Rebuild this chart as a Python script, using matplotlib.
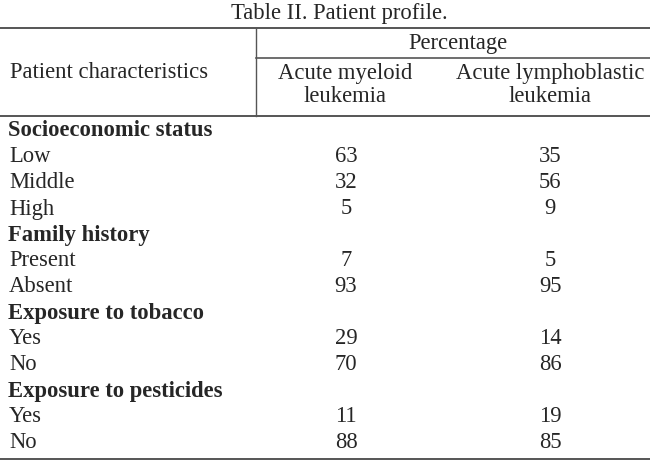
import matplotlib.pyplot as plt

# Table data
groups = ['Socioeconomic status', 'Family history',
          'Exposure to tobacco', 'Exposure to pesticides']
levels = [['Low', 'Middle', 'High'],
          ['Present', 'Absent'],
          ['Yes', 'No'],
          ['Yes', 'No']]
aml = [[63, 32, 5], [7, 93], [29, 70], [11, 88]]
all_ = [[35, 56, 9], [5, 95], [14, 86], [19, 85]]

title = 'Table II. Patient profile.'
col_head = 'Percentage'
col_names = ['Acute myeloid\nleukemia', 'Acute lymphoblastic\nleukemia']

plt.rcParams['font.family'] = ['Liberation Serif', 'DejaVu Serif']
ink = '#262626'
rule = '#555555'

fig = plt.figure(figsize=(6.5, 4.72), dpi=100)
ax = fig.add_axes([0, 0, 1, 1])
ax.set_xlim(0, 650)
ax.set_ylim(472, 0)
ax.axis('off')

fs = 16.3
ax.text(339, 14, title, ha='center', va='center', fontsize=fs, color=ink)

# header rules
ax.plot([0, 650], [28, 28], color=rule, lw=1.4)
ax.plot([256, 256], [28, 116], color=rule, lw=1.0)
ax.plot([256, 650], [58, 58], color=rule, lw=1.2)
ax.plot([0, 650], [116, 116], color=rule, lw=1.4)

ax.text(10, 72, 'Patient characteristics', ha='left', va='center', fontsize=fs, color=ink)
ax.text(458, 43, col_head, ha='center', va='center', fontsize=fs, color=ink)
col_x = [345, 550]
for cx, name in zip(col_x, col_names):
    ax.text(cx, 85, name, ha='center', va='center', fontsize=fs, color=ink,
            linespacing=1.18)

# body
num_x = [346, 550]
y = 131
step = 26
for g, lv, a, b in zip(groups, levels, aml, all_):
    ax.text(8, y, g, ha='left', va='center', fontsize=fs, color=ink,
            fontweight='bold')
    y += step
    for name, v1, v2 in zip(lv, a, b):
        ax.text(9, y, name, ha='left', va='center', fontsize=fs, color=ink)
        ax.text(num_x[0], y, str(v1), ha='center', va='center', fontsize=fs, color=ink)
        ax.text(num_x[1], y, str(v2), ha='center', va='center', fontsize=fs, color=ink)
        y += step

ax.plot([0, 650], [459, 459], color=rule, lw=1.4)

fig.savefig('out.png', dpi=100, facecolor='white')
